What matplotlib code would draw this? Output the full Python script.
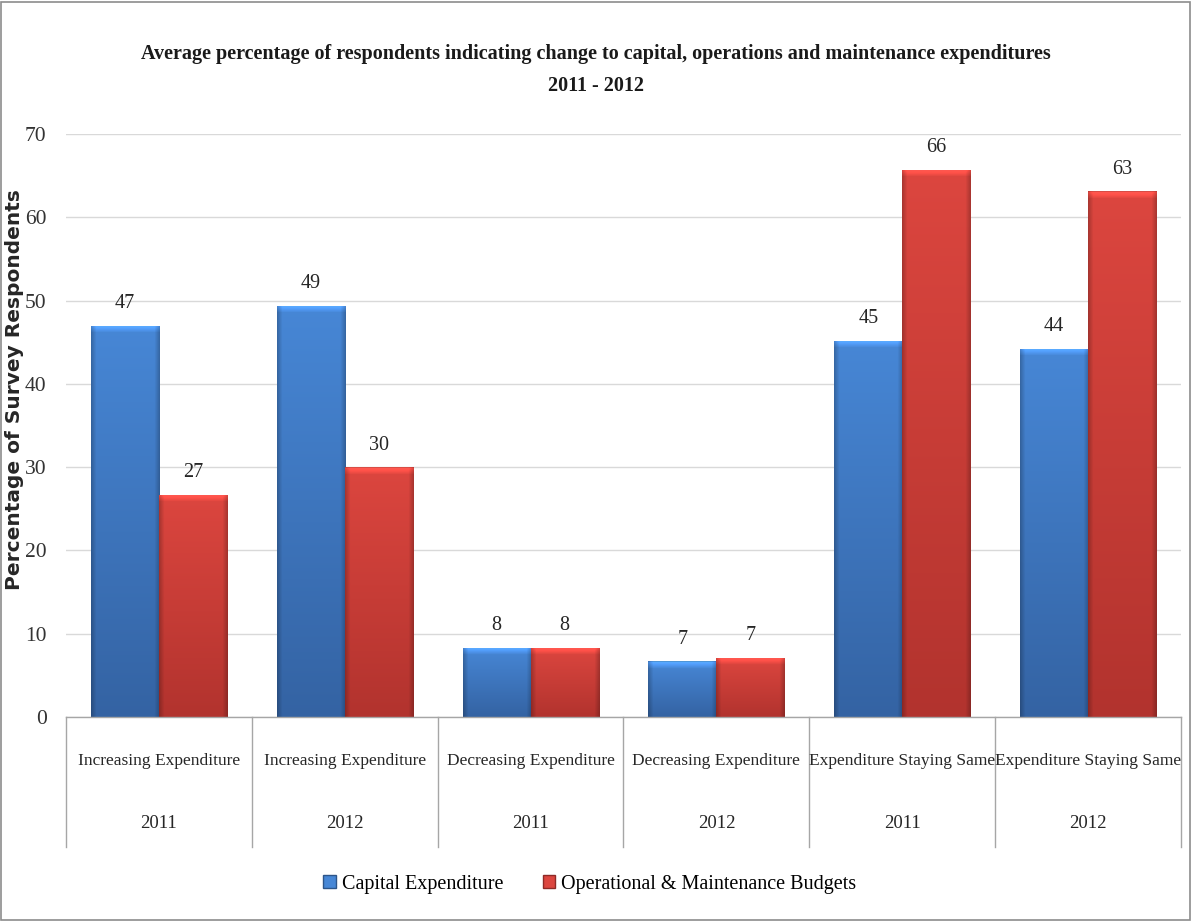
import numpy as np
import matplotlib
matplotlib.use("Agg")
import matplotlib.pyplot as plt
from matplotlib.colors import to_rgb
from matplotlib.patches import Rectangle
from matplotlib.transforms import blended_transform_factory

# ---- data -------------------------------------------------------------
categories = ["Increasing Expenditure", "Increasing Expenditure",
              "Decreasing Expenditure", "Decreasing Expenditure",
              "Expenditure Staying Same", "Expenditure Staying Same"]
years = ["2011", "2012", "2011", "2012", "2011", "2012"]
capital = [47.0, 49.4, 8.3, 6.7, 45.2, 44.2]
operational = [26.7, 30.0, 8.3, 7.1, 65.7, 63.1]
series_names = ["Capital Expenditure", "Operational & Maintenance Budgets"]
yticks = [0, 10, 20, 30, 40, 50, 60, 70]

title = ("Average percentage of respondents indicating change to capital, "
         "operations and maintenance expenditures\n2011 - 2012")
ylabel = "Percentage of Survey Respondents"

# ---- style ------------------------------------------------------------
SERIF = ["Liberation Serif", "DejaVu Serif"]
blue_top, blue_bot = "#4787d6", "#3463a3"
red_top, red_bot = "#dc463f", "#b2332e"

W, H = 1192, 921
fig = plt.figure(figsize=(W / 100, H / 100), dpi=100)
ax = fig.add_axes([66 / W, 1 - 717 / H, (1181 - 66) / W, (717 - 134) / H])

x = np.arange(len(categories))
bw = 0.366


def shade(patch, top, bot):
    """Fill a bar with a vertical gradient, bevelled top and darker sides."""
    x0, y0 = patch.get_x(), patch.get_y()
    w, h = patch.get_width(), patch.get_height()
    if h <= 0:
        return
    nrow = max(int(h * 8.33), 2)
    ncol = 68
    t = np.linspace(0, 1, nrow)[:, None]          # 0 at top, 1 at bottom
    ct, cb = np.array(to_rgb(top)), np.array(to_rgb(bot))
    img = ct[None, None, :] * (1 - t[..., None]) + cb[None, None, :] * t[..., None]
    img = np.repeat(img, ncol, axis=1)
    # side darkening
    u = np.linspace(0, 1, ncol)
    side = np.ones(ncol)
    edge = 5 / ncol
    side = np.where(u < edge, 0.78 + 0.22 * u / edge, side)
    side = np.where(u > 1 - edge, 0.78 + 0.22 * (1 - u) / edge, side)
    img = img * side[None, :, None]
    # bevelled highlight at the top
    bev = min(7, nrow // 2)
    light = np.linspace(1.30, 1.05, bev)
    img[:bev] = np.clip(img[:bev] * light[:, None, None], 0, 1)
    img[0] = img[0] * 0.85
    im = ax.imshow(img, extent=[x0, x0 + w, y0, y0 + h], aspect="auto",
                   origin="upper", zorder=2, interpolation="bilinear")
    im.set_clip_path(patch)


bars_c = ax.bar(x - bw / 2, capital, bw, color=blue_bot, edgecolor="#2d5589",
                linewidth=0.6, zorder=2)
bars_o = ax.bar(x + bw / 2, operational, bw, color=red_bot, edgecolor="#8e2a26",
                linewidth=0.6, zorder=2)
for p in bars_c:
    shade(p, blue_top, blue_bot)
for p in bars_o:
    shade(p, red_top, red_bot)

# value labels
for bars, vals in ((bars_c, capital), (bars_o, operational)):
    for p, v in zip(bars, vals):
        ax.annotate(f"{v:.0f}", (p.get_x() + p.get_width() / 2, v),
                    xytext=(0, 9), textcoords="offset points",
                    ha="center", va="bottom", family=SERIF, fontsize=14.5,
                    color="#262626", zorder=4)

ax.set_xlim(-0.5, len(categories) - 0.5)
ax.set_ylim(0, 70)
ax.set_yticks(yticks)
ax.set_yticklabels([str(t) for t in yticks], family=SERIF, fontsize=15.5,
                   color="#333333")
ax.tick_params(axis="y", length=0, pad=14)
ax.set_xticks([])
ax.grid(axis="y", color="#d9d9d9", linewidth=1.0, zorder=0)
ax.set_axisbelow(True)
for s in ("left", "right", "top"):
    ax.spines[s].set_visible(False)
ax.spines["bottom"].set_color("#a6a6a6")
ax.spines["bottom"].set_linewidth(1.0)

# two-level category axis
tr = blended_transform_factory(ax.transData, ax.transAxes)
ax_h = 717 - 134
sep_bottom = -(847 - 717) / ax_h
for b in np.arange(-0.5, len(categories) + 0.5, 1):
    ax.plot([b, b], [0, sep_bottom], transform=tr, color="#a6a6a6",
            linewidth=1.0, clip_on=False)
for xi, (cat, yr) in enumerate(zip(categories, years)):
    ax.text(xi, -(761 - 717) / ax_h, cat, transform=tr, ha="center",
            va="center", family=SERIF, fontsize=12.5, color="#262626")
    ax.text(xi, -(823 - 717) / ax_h, yr, transform=tr, ha="center",
            va="center", family=SERIF, fontsize=13.5, color="#262626")

# title and axis label
fig.text(0.5, 1 - 70 / H, title, ha="center", va="center", family=SERIF,
         fontsize=14.5, fontweight="bold", linespacing=1.75, color="#1a1a1a")
fig.text(15 / W, 1 - 390 / H, ylabel, rotation=90, ha="center", va="center",
         family="DejaVu Sans", fontsize=14.5, fontweight="bold", color="#262626")

# legend
handles = [Rectangle((0, 0), 1, 1, facecolor=blue_top, edgecolor="#2d5589"),
           Rectangle((0, 0), 1, 1, facecolor=red_top, edgecolor="#8e2a26")]
fig.legend(handles, series_names, loc="center", ncol=2,
           bbox_to_anchor=(590 / W, 1 - 884 / H), frameon=False,
           prop={"family": SERIF, "size": 14.5}, handlelength=0.6,
           handleheight=0.6, handletextpad=0.3, columnspacing=2.0)

# outer chart border
fig.patches.append(Rectangle((1 / W, 1 / H), 1 - 3 / W, 1 - 3 / H,
                             transform=fig.transFigure, fill=False,
                             edgecolor="#8c8c8c", linewidth=1.2))

fig.savefig("out.png", dpi=100, facecolor="white")
